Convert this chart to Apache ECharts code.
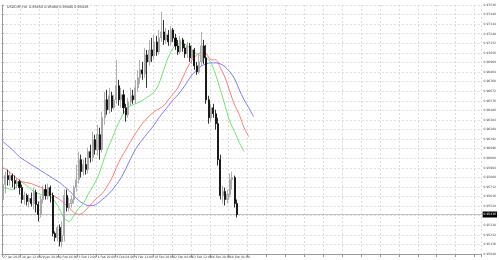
<!DOCTYPE html>
<html>
<head>
<meta charset="utf-8">
<script src="https://cdn.jsdelivr.net/npm/echarts@6/dist/echarts.min.js"></script>
<style>
html,body{margin:0;padding:0;background:#fff;}
#c{width:499px;height:260px;}
</style>
</head>
<body>
<div id="c"></div>
<script>
const titleText = 'USDCHF,H4  0.95450 0.95480 0.95400 0.95436';
const timeLabels = ['27 Jan 2015','28 Jan 12:00','29 Jan 20:00','2 Feb 04:00','3 Feb 12:00','4 Feb 20:00','6 Feb 04:00','9 Feb 12:00','10 Feb 20:00','12 Feb 04:00','13 Feb 12:00','16 Feb 20:00','18 Feb 04:00'];
const barsPerLabel = 8;
const slotCount = 203;

const opens = [0.95586,0.95736,0.95826,0.95786,0.95826,0.95776,0.95746,0.95766,0.95706,0.95586,
0.95626,0.95566,0.95596,0.95546,0.95656,0.95536,0.95436,0.95586,0.95686,0.95626,
0.95706,0.95626,0.95246,0.95206,0.95306,0.95166,0.95226,0.95626,0.95506,0.95546,
0.95586,0.95706,0.95786,0.95986,0.95866,0.95936,0.95886,0.96066,0.96006,0.96186,
0.96086,0.96236,0.96086,0.96406,0.96586,0.96486,0.96626,0.96506,0.96586,0.96726,
0.96586,0.96636,0.96506,0.96436,0.96566,0.96626,0.96586,0.96706,0.96806,0.96886,
0.96846,0.97036,0.96966,0.97086,0.97026,0.97166,0.97066,0.97206,0.97266,0.97186,
0.97236,0.97166,0.97286,0.97206,0.97126,0.97066,0.97186,0.97106,0.97046,0.97126,
0.97006,0.97086,0.96926,0.96866,0.96966,0.97126,0.97006,0.96586,0.96406,0.96506,
0.96446,0.96346,0.95986,0.95626,0.95666,0.95586,0.95636,0.95786,0.95806,0.95546];
const closes = [0.95736,0.95826,0.95786,0.95826,0.95776,0.95746,0.95766,0.95706,0.95586,0.95626,
0.95566,0.95596,0.95546,0.95656,0.95536,0.95436,0.95586,0.95686,0.95626,0.95706,
0.95626,0.95246,0.95206,0.95306,0.95166,0.95226,0.95626,0.95506,0.95546,0.95586,
0.95706,0.95786,0.95986,0.95866,0.95936,0.95886,0.96066,0.96006,0.96186,0.96086,
0.96236,0.96086,0.96406,0.96586,0.96486,0.96626,0.96506,0.96586,0.96726,0.96586,
0.96636,0.96506,0.96436,0.96566,0.96626,0.96586,0.96706,0.96806,0.96886,0.96846,
0.97036,0.96966,0.97086,0.97026,0.97166,0.97066,0.97206,0.97266,0.97186,0.97236,
0.97166,0.97286,0.97206,0.97126,0.97066,0.97186,0.97106,0.97046,0.97126,0.97006,
0.97086,0.96926,0.96866,0.96966,0.97126,0.97006,0.96586,0.96406,0.96506,0.96446,
0.96346,0.95986,0.95626,0.95666,0.95586,0.95636,0.95786,0.95806,0.95546,0.95436];
const highs = [0.95786,0.95866,0.95886,0.95866,0.95846,0.95826,0.95806,0.95786,0.95736,0.95666,
0.95646,0.95636,0.95656,0.95706,0.95686,0.95566,0.95626,0.95726,0.95736,0.95746,
0.95726,0.95656,0.95266,0.95326,0.95336,0.95366,0.95686,0.95686,0.95606,0.95626,
0.95726,0.95936,0.96066,0.96036,0.95986,0.96006,0.96106,0.96136,0.96266,0.96236,
0.96336,0.96306,0.96466,0.96666,0.96686,0.96706,0.96666,0.96636,0.96986,0.96786,
0.96706,0.96686,0.96546,0.96606,0.96706,0.96686,0.96786,0.96886,0.96986,0.96966,
0.97106,0.97086,0.97186,0.97206,0.97236,0.97226,0.97286,0.97466,0.97386,0.97306,
0.97286,0.97326,0.97306,0.97246,0.97186,0.97226,0.97206,0.97146,0.97166,0.97156,
0.97136,0.97106,0.96966,0.97036,0.97266,0.97186,0.97136,0.96626,0.96546,0.96546,
0.96486,0.96406,0.96036,0.95726,0.95706,0.95686,0.95846,0.95866,0.95826,0.95586];
const lows = [0.95526,0.95646,0.95726,0.95726,0.95706,0.95686,0.95696,0.95636,0.95546,0.95536,
0.95526,0.95506,0.95516,0.95486,0.95456,0.95366,0.95406,0.95546,0.95586,0.95586,
0.95556,0.95216,0.95166,0.95166,0.95116,0.95106,0.95166,0.95466,0.95466,0.95506,
0.95546,0.95666,0.95746,0.95806,0.95826,0.95836,0.95846,0.95956,0.95966,0.96036,
0.96026,0.95986,0.96056,0.96336,0.96436,0.96446,0.96466,0.96486,0.96546,0.96526,
0.96506,0.96446,0.96366,0.96406,0.96526,0.96546,0.96546,0.96666,0.96746,0.96786,
0.96806,0.96706,0.96926,0.96966,0.96986,0.97026,0.97036,0.97166,0.97136,0.97146,
0.97126,0.97126,0.97166,0.97086,0.97036,0.97046,0.97066,0.97006,0.97006,0.96966,
0.96946,0.96886,0.96836,0.96846,0.96926,0.96946,0.96546,0.96346,0.96366,0.96406,
0.96286,0.95926,0.95586,0.95546,0.95526,0.95546,0.95606,0.95686,0.95506,0.95406];

// Alligator lines, one value every 2 bars (bar 0, 2, 4, ...)
const maStep = 2;
const lipsGreen = [0.95706,0.95696,0.95686,0.95726,0.95756,0.95726,0.95686,0.95656,0.95636,0.95626,
0.95616,0.95566,0.95486,0.95396,0.95366,0.95426,0.95496,0.95546,0.95636,0.95716,
0.95806,0.95936,0.96076,0.96186,0.96306,0.96406,0.96486,0.96526,0.96546,0.96566,
0.96596,0.96626,0.96666,0.96746,0.96886,0.97016,0.97106,0.97146,0.97156,0.97126,
0.97086,0.97046,0.97026,0.97006,0.96956,0.96836,0.96686,0.96526,0.96366,0.96266,
0.96156,0.96066];
const teethRed = [0.95906,0.95876,0.95836,0.95796,0.95766,0.95756,0.95746,0.95726,0.95706,0.95676,
0.95646,0.95616,0.95586,0.95546,0.95506,0.95456,0.95436,0.95456,0.95506,0.95556,
0.95606,0.95646,0.95716,0.95796,0.95906,0.96006,0.96086,0.96166,0.96246,0.96316,
0.96376,0.96426,0.96466,0.96496,0.96526,0.96586,0.96646,0.96706,0.96806,0.96906,
0.96986,0.97036,0.97056,0.97046,0.96986,0.96986,0.96906,0.96806,0.96666,0.96536,
0.96436,0.96306,0.96216];
const jawBlue = [0.96166,0.96126,0.96086,0.96036,0.95996,0.95966,0.95936,0.95906,0.95876,0.95846,
0.95816,0.95786,0.95756,0.95716,0.95676,0.95626,0.95576,0.95546,0.95526,0.95526,
0.95546,0.95586,0.95626,0.95676,0.95736,0.95806,0.95896,0.95996,0.96086,0.96156,
0.96216,0.96276,0.96336,0.96406,0.96466,0.96526,0.96586,0.96636,0.96696,0.96766,
0.96836,0.96886,0.96926,0.96946,0.96956,0.96956,0.96946,0.96916,0.96866,0.96796,
0.96686,0.96586,0.96506,0.96416];

const categories = Array.from({length: slotCount}, (_, i) => String(i));
const candleData = opens.map((o, i) => [o, closes[i], lows[i], highs[i]]);
const toLine = arr => arr.map((v, k) => [k * maStep, v]);
const lastClose = closes[closes.length - 1];

const chart = echarts.init(document.getElementById('c'), null, {renderer: 'canvas'});
chart.setOption({
  animation: false,
  backgroundColor: '#ffffff',
  title: {
    text: titleText, left: 2, top: 1,
    textStyle: {fontSize: 3.4, color: '#333', fontWeight: 'normal', fontFamily: 'DejaVu Sans'}
  },
  grid: {left: 0, right: 12, top: 5, bottom: 6, containLabel: false},
  xAxis: [{
    type: 'category', data: categories, boundaryGap: true,
    axisLine: {show: true, lineStyle: {color: '#999', width: 1}},
    axisTick: {show: true, interval: barsPerLabel - 1, length: 3, lineStyle: {color: '#999'}},
    axisLabel: {
      show: true, interval: barsPerLabel - 1, fontSize: 3, color: '#444', margin: 2, align: 'left',
      fontFamily: 'DejaVu Sans',
      formatter: (v, idx) => (idx % barsPerLabel === 0 && timeLabels[idx / barsPerLabel]) ? timeLabels[idx / barsPerLabel] : ''
    },
    splitLine: {show: true, interval: barsPerLabel - 1, lineStyle: {color: '#dcdcdc', type: [2, 2], width: 1}}
  }, {
    type: 'value', min: 0, max: 1, show: false
  }],
  yAxis: {
    type: 'value', position: 'right', min: 0.9504, max: 0.97536, interval: 0.00096,
    axisLine: {show: true, lineStyle: {color: '#999', width: 1}},
    axisTick: {show: true, length: 2, lineStyle: {color: '#999'}},
    axisLabel: {fontSize: 3, color: '#444', margin: 2, fontFamily: 'DejaVu Sans', formatter: v => v.toFixed(5)},
    splitLine: {show: true, lineStyle: {color: '#dcdcdc', type: [2, 2], width: 1}}
  },
  series: [
    {
      type: 'line', xAxisIndex: 1, data: [[0, lastClose], [1, lastClose]], showSymbol: false, silent: true,
      lineStyle: {color: '#c2c2c2', width: 1}, z: 1,
      endLabel: {show: true, formatter: lastClose.toFixed(5), fontSize: 3, color: '#fff', backgroundColor: '#000', padding: [1.5, 1], distance: 1, fontFamily: 'DejaVu Sans'}
    },
    {
      type: 'candlestick', data: candleData, barWidth: 1.6,
      itemStyle: {color: '#c4c4c4', borderColor: '#9a9a9a', color0: '#000', borderColor0: '#000', borderWidth: 0.8},
      z: 3
    },
    {type: 'line', data: toLine(jawBlue), showSymbol: false, smooth: 0.3, lineStyle: {color: '#7a7aff', width: 1}, z: 2},
    {type: 'line', data: toLine(teethRed), showSymbol: false, smooth: 0.3, lineStyle: {color: '#ff7a7a', width: 1}, z: 2},
    {type: 'line', data: toLine(lipsGreen), showSymbol: false, smooth: 0.3, lineStyle: {color: '#6ee66e', width: 1}, z: 2}
  ]
});
</script>
</body>
</html>
